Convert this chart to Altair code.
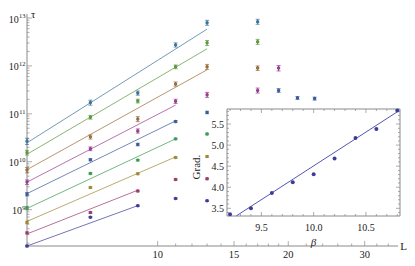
import altair as alt
import pandas as pd

# ---------------- main panel data ----------------
series = ["navy", "crimson", "olive", "green", "blue", "magenta", "brown", "lime", "steel"]
colors = ["#3d3d99", "#993d6f", "#9c8c3a", "#3d9954", "#3d5a99", "#993d90", "#996d3d", "#5a993d", "#3d7499"]

L_navy = [5, 7, 9, 11, 13]
tau_navy = [1.74e8, 6.95e8, 1.21e9, 1.71e9, 1.53e9]
err_navy = [4, 3, 3, 3, 3]

L_crimson = [5, 7, 9, 11, 13]
tau_crimson = [3.27e8, 8.7e8, 2.45e9, 4.26e9, 4.4e9]
err_crimson = [5, 4, 4, 4, 4]

L_olive = [5, 7, 9, 11, 13]
tau_olive = [5.4e8, 2.9e9, 5.6e9, 1.22e10, 1.28e10]
err_olive = [6, 4, 4, 4, 4]

L_green = [5, 7, 9, 11, 13]
tau_green = [1.08e9, 5.7e9, 1.08e10, 3.0e10, 3.8e10]
err_green = [8, 4, 4, 4, 4]

L_blue = [5, 7, 9, 11, 13, 19, 21, 23]
tau_blue = [2.1e9, 1.1e10, 2.29e10, 6.9e10, 1.07e11, 3.08e11, 2.15e11, 2.08e11]
err_blue = [8, 5, 6, 5, 6, 9, 7, 7]

L_magenta = [5, 7, 9, 11, 13, 17, 19]
tau_magenta = [3.75e9, 1.87e10, 4.4e10, 1.83e11, 2.5e11, 3.08e11, 9.0e11]
err_magenta = [11, 9, 10, 10, 12, 12, 13]

L_brown = [5, 7, 9, 11, 13, 17]
tau_brown = [6.7e9, 3.3e10, 7.8e10, 4.2e11, 9.6e11, 9.0e11]
err_brown = [13, 10, 12, 10, 12, 11]

L_lime = [5, 7, 9, 11, 13, 17]
tau_lime = [1.55e10, 8.5e10, 1.85e11, 9.6e11, 3.03e12, 3.2e12]
err_lime = [11, 9, 9, 9, 12, 12]

L_steel = [5, 7, 9, 11, 13, 17]
tau_steel = [2.69e10, 1.72e11, 2.72e11, 2.75e12, 8.0e12, 8.4e12]
err_steel = [15, 12, 10, 10, 12, 12]

# power-law fit lines (start / end)
fit_L_start = [5, 5, 5, 5, 5, 5, 5, 5, 5]
fit_L_end = [9, 9, 11, 11, 11, 11, 13, 13, 13]
fit_tau_start = [1.74e8, 3.11e8, 5.67e8, 1.06e9, 2.16e9, 3.75e9, 6.84e9, 1.43e10, 2.48e10]
fit_tau_end = [1.21e9, 2.54e9, 1.26e10, 3.0e10, 7.12e10, 1.52e11, 8.3e11, 2.28e12, 5.86e12]

# axis ticks and labels
x_major = [10, 15, 20, 30]
x_labels = ["10", "15", "20", "30"]
x_minor = [11, 12, 13, 14, 16, 17, 18, 19, 22, 24, 26, 28, 32, 34]
y_major_1 = [1e9]
y_exp_1 = ["9"]
y_major_2 = [1e10, 1e11, 1e12, 1e13]
y_exp_2 = ["10", "11", "12", "13"]
y_minor = [m * 10 ** e for e in range(8, 13) for m in range(2, 10) if 1.74e8 <= m * 10 ** e <= 1.21e13]

# ---------------- inset data ----------------
beta = [9.2, 9.4, 9.6, 9.8, 10.0, 10.2, 10.4, 10.6, 10.8]
grad = [3.357, 3.50, 3.864, 4.119, 4.31, 4.681, 5.167, 5.381, 5.824]
fit_beta = [9.26, 10.8]
fit_grad = [3.32, 5.79]
in_x_major = [9.5, 10.0, 10.5]
in_x_labels = ["9.5", "10.0", "10.5"]
in_x_minor = [9.2, 9.3, 9.4, 9.6, 9.7, 9.8, 9.9, 10.1, 10.2, 10.3, 10.4, 10.6, 10.7, 10.8]
in_y_major = [3.5, 4.0, 4.5, 5.0, 5.5]
in_y_labels = ["3.5", "4.0", "4.5", "5.0", "5.5"]
in_y_minor = [3.4, 3.6, 3.7, 3.8, 3.9, 4.1, 4.2, 4.3, 4.4, 4.6, 4.7, 4.8, 4.9, 5.1, 5.2, 5.3, 5.4, 5.6, 5.7, 5.8]

# ---------------- geometry ----------------
W, H = 371, 232
X_DOM = [5, 35.8]
Y_DOM = [1.74e8, 1.212e13]
IN_X_DOM = [9.171, 10.826]
IN_Y_DOM = [3.317, 5.857]
IN_X_RANGE = [200, 373]
IN_Y_RANGE = [202, 95]
GRAD_AT = [8.884, 4.48]     # where the rotated inset title sits, in inset units
AX = "#8a8a8a"
TXT = "#222222"
SERIF = "Liberation Serif"

tables = {
    "navy": (L_navy, tau_navy, err_navy),
    "crimson": (L_crimson, tau_crimson, err_crimson),
    "olive": (L_olive, tau_olive, err_olive),
    "green": (L_green, tau_green, err_green),
    "blue": (L_blue, tau_blue, err_blue),
    "magenta": (L_magenta, tau_magenta, err_magenta),
    "brown": (L_brown, tau_brown, err_brown),
    "lime": (L_lime, tau_lime, err_lime),
    "steel": (L_steel, tau_steel, err_steel),
}
rows = []
for s, (Ls, ts, es) in tables.items():
    for L, t, e in zip(Ls, ts, es):
        rows.append({"series": s, "L": L, "tau": t, "lo": t * (1 - e / 100), "hi": t * (1 + e / 100)})
pts = pd.DataFrame(rows)

fit_rows = []
for i, s in enumerate(series):
    fit_rows.append({"series": s, "L": fit_L_start[i], "tau": fit_tau_start[i]})
    fit_rows.append({"series": s, "L": fit_L_end[i], "tau": fit_tau_end[i]})
fits = pd.DataFrame(fit_rows)

xs = alt.Scale(type="log", domain=X_DOM, nice=False, zero=False)
ys = alt.Scale(type="log", domain=Y_DOM, nice=False, zero=False)
col = alt.Color("series:N", scale=alt.Scale(domain=series, range=colors), legend=None)


def X(f):
    return alt.X(f, scale=xs, axis=None)


def Y(f):
    return alt.Y(f, scale=ys, axis=None)


lines = alt.Chart(fits).mark_line(strokeWidth=0.9, opacity=0.8).encode(
    x=X("L:Q"), y=Y("tau:Q"), color=col, detail="series:N")
bars = alt.Chart(pts).mark_rule(strokeWidth=1).encode(x=X("L:Q"), y=Y("lo:Q"), y2="hi:Q", color=col)
cap_lo = alt.Chart(pts).mark_tick(orient="horizontal", size=4, thickness=1).encode(
    x=X("L:Q"), y=Y("lo:Q"), color=col)
cap_hi = alt.Chart(pts).mark_tick(orient="horizontal", size=4, thickness=1).encode(
    x=X("L:Q"), y=Y("hi:Q"), color=col)
dots = alt.Chart(pts).mark_point(filled=True, size=12, opacity=1).encode(
    x=X("L:Q"), y=Y("tau:Q"), color=col)


def xticks(vals, size):
    return alt.Chart(pd.DataFrame({"v": vals})).mark_tick(
        orient="vertical", size=size, thickness=1, yOffset=-size / 2, color=AX).encode(
        x=X("v:Q"), y=alt.YDatum(Y_DOM[0], axis=None))


def yticks(vals, size):
    return alt.Chart(pd.DataFrame({"v": vals})).mark_tick(
        orient="horizontal", size=size, thickness=1, xOffset=size / 2, color=AX).encode(
        y=Y("v:Q"), x=alt.XDatum(X_DOM[0], axis=None))


x_domain = alt.Chart(pd.DataFrame({"a": [X_DOM[0]], "b": [X_DOM[1]], "c": [Y_DOM[0]]})).mark_rule(
    color=AX, strokeWidth=1).encode(x=X("a:Q"), x2="b:Q", y=Y("c:Q"))
y_domain = alt.Chart(pd.DataFrame({"a": [X_DOM[0]], "b": [Y_DOM[0]], "c": [Y_DOM[1]]})).mark_rule(
    color=AX, strokeWidth=1).encode(x=X("a:Q"), y=Y("b:Q"), y2="c:Q")

x_text = alt.Chart(pd.DataFrame({"v": x_major, "t": x_labels})).mark_text(
    baseline="alphabetic", dy=11.5, font=SERIF, fontSize=10.5, color=TXT).encode(
    x=X("v:Q"), y=alt.YDatum(Y_DOM[0], axis=None), text="t:N")


def ylab(vals, exps, expw):
    base = alt.Chart(pd.DataFrame({"v": vals, "t": ["10"] * len(vals)})).mark_text(
        align="right", baseline="alphabetic", dx=-1.5 - expw, dy=4.5, font=SERIF, fontSize=10,
        color=TXT).encode(y=Y("v:Q"), x=alt.XDatum(X_DOM[0], axis=None), text="t:N")
    sup = alt.Chart(pd.DataFrame({"v": vals, "t": exps})).mark_text(
        align="right", baseline="alphabetic", dx=-1.5, dy=0, font=SERIF, fontSize=6.5,
        color=TXT).encode(y=Y("v:Q"), x=alt.XDatum(X_DOM[0], axis=None), text="t:N")
    return [base, sup]


tau_title = alt.Chart(pd.DataFrame({"t": ["τ"]})).mark_text(
    baseline="middle", align="left", dy=1, dx=4, font=SERIF, fontSize=11, color=TXT).encode(
    x=alt.XDatum(X_DOM[0], axis=None), y=alt.YDatum(Y_DOM[1], axis=None), text="t:N")
L_title = alt.Chart(pd.DataFrame({"t": ["L"]})).mark_text(
    baseline="middle", align="center", dx=5.5, dy=1, font=SERIF, fontSize=11, color=TXT).encode(
    x=alt.XDatum(X_DOM[1], axis=None), y=alt.YDatum(Y_DOM[0], axis=None), text="t:N")

main = alt.layer(x_domain, y_domain,
                 xticks(x_major, 5), xticks(x_minor, 2.5), yticks(y_major_1 + y_major_2, 5),
                 yticks(y_minor, 2.5),
                 lines, bars, cap_lo, cap_hi, dots,
                 x_text, *ylab(y_major_1, y_exp_1, 3.5), *ylab(y_major_2, y_exp_2, 6.8),
                 tau_title, L_title)

# ---------------- inset ----------------
ixs = alt.Scale(domain=IN_X_DOM, range=IN_X_RANGE, nice=False, zero=False)
iys = alt.Scale(domain=IN_Y_DOM, range=IN_Y_RANGE, nice=False, zero=False)


def IX(f):
    return alt.X(f, scale=ixs, axis=None)


def IY(f):
    return alt.Y(f, scale=iys, axis=None)


frame_df = pd.DataFrame({"x0": [IN_X_DOM[0]], "x1": [IN_X_DOM[1]], "y0": [IN_Y_DOM[0]], "y1": [IN_Y_DOM[1]]})
frame = alt.Chart(frame_df).mark_rect(fill="white", stroke=AX, strokeWidth=1).encode(
    x=IX("x0:Q"), x2="x1:Q", y=IY("y0:Q"), y2="y1:Q")


def ixticks(vals, size, edge, sign):
    return alt.Chart(pd.DataFrame({"v": vals})).mark_tick(
        orient="vertical", size=size, thickness=1, yOffset=sign * size / 2, color=AX).encode(
        x=IX("v:Q"), y=alt.YDatum(edge, scale=iys, axis=None))


def iyticks(vals, size, edge, sign):
    return alt.Chart(pd.DataFrame({"v": vals})).mark_tick(
        orient="horizontal", size=size, thickness=1, xOffset=sign * size / 2, color=AX).encode(
        y=IY("v:Q"), x=alt.XDatum(edge, scale=ixs, axis=None))


in_line = alt.Chart(pd.DataFrame({"b": fit_beta, "g": fit_grad})).mark_line(
    color="#5555b5", strokeWidth=1).encode(x=IX("b:Q"), y=IY("g:Q"))
in_pts = alt.Chart(pd.DataFrame({"b": beta, "g": grad})).mark_point(
    filled=True, size=16, color="#3d3d99", opacity=1).encode(x=IX("b:Q"), y=IY("g:Q"))

in_x_text = alt.Chart(pd.DataFrame({"v": in_x_major, "t": in_x_labels})).mark_text(
    baseline="middle", dy=12, font=SERIF, fontSize=10, color=TXT).encode(
    x=IX("v:Q"), y=alt.YDatum(IN_Y_DOM[0], scale=iys, axis=None), text="t:N")
in_y_text = alt.Chart(pd.DataFrame({"v": in_y_major, "t": in_y_labels})).mark_text(
    align="right", baseline="middle", dx=-3, dy=1, font=SERIF, fontSize=10, color=TXT).encode(
    y=IY("v:Q"), x=alt.XDatum(IN_X_DOM[0], scale=ixs, axis=None), text="t:N")
beta_title = alt.Chart(pd.DataFrame({"t": ["β"]})).mark_text(
    baseline="middle", dy=27, font=SERIF, fontSize=11, fontStyle="italic", color=TXT).encode(
    x=alt.XDatum((IN_X_DOM[0] + IN_X_DOM[1]) / 2, scale=ixs, axis=None),
    y=alt.YDatum(IN_Y_DOM[0], scale=iys, axis=None), text="t:N")
grad_title = alt.Chart(pd.DataFrame({"t": ["Grad."]})).mark_text(
    baseline="middle", align="center", angle=270, font=SERIF, fontSize=11, color=TXT).encode(
    x=alt.XDatum(GRAD_AT[0], scale=ixs, axis=None),
    y=alt.YDatum(GRAD_AT[1], scale=iys, axis=None), text="t:N")

inset = alt.layer(
    frame,
    ixticks(in_x_major, 4, IN_Y_DOM[0], -1), ixticks(in_x_minor, 2, IN_Y_DOM[0], -1),
    ixticks(in_x_major, 4, IN_Y_DOM[1], 1), ixticks(in_x_minor, 2, IN_Y_DOM[1], 1),
    iyticks(in_y_major, 4, IN_X_DOM[0], 1), iyticks(in_y_minor, 2, IN_X_DOM[0], 1),
    iyticks(in_y_major, 4, IN_X_DOM[1], -1), iyticks(in_y_minor, 2, IN_X_DOM[1], -1),
    in_line, in_pts, in_x_text, in_y_text, beta_title, grad_title)

chart = alt.layer(main, inset).resolve_scale(x="independent", y="independent").properties(
    width=W, height=H,
    padding={"left": 19, "top": 6, "right": 9, "bottom": 12},
    autosize=alt.AutoSizeParams(type="none"),
).configure_view(strokeWidth=0)

chart.save("out.html", embed_options={"renderer": "svg", "actions": False})
